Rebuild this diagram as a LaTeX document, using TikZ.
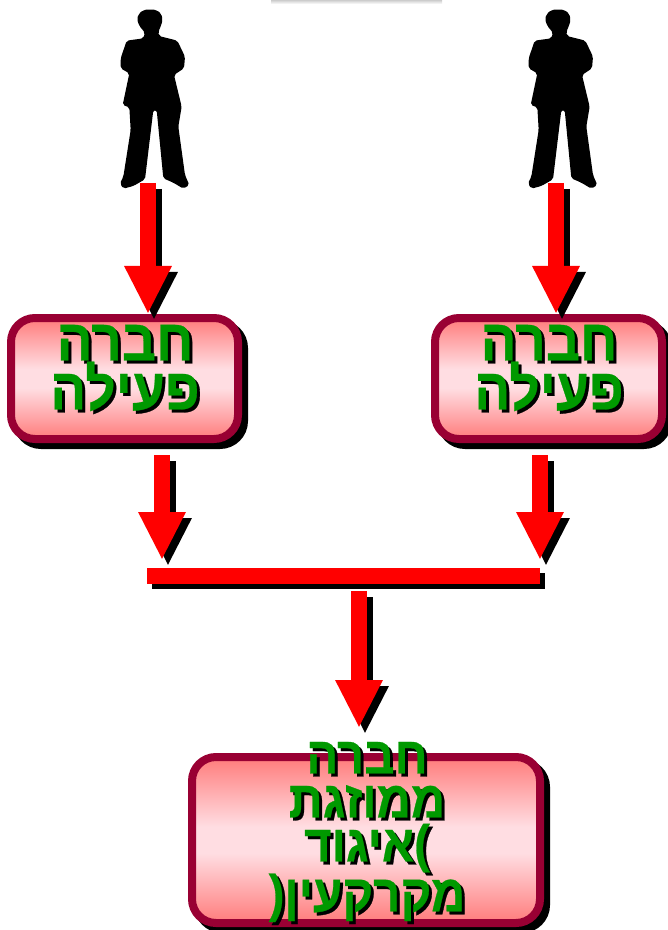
\documentclass[tikz,border=0pt]{standalone}
\usepackage{fontspec}
\usetikzlibrary{arrows.meta,shadows}
\TeXXeTstate=1
\newfontfamily\hebfont[Script=Hebrew,FakeStretch=0.91,FakeBold=0.5]{Liberation Sans Bold}
\definecolor{boxedge}{HTML}{990033}
\definecolor{boxend}{HTML}{FF8080}
\definecolor{boxmid}{HTML}{FFDDE2}
\definecolor{txtgreen}{HTML}{009900}
\pgfdeclareverticalshading{boxfill}{100bp}{
  color(0bp)=(boxend); color(26bp)=(boxend); color(46bp)=(boxmid);
  color(54bp)=(boxmid); color(74bp)=(boxend); color(100bp)=(boxend)}
\tikzset{
  box/.style={draw=boxedge,line width=6pt,rounded corners=18pt,
    shading=boxfill,
    general shadow={fill=black,draw=black,shadow xshift=4.5pt,shadow yshift=-4.5pt},
    inner sep=0pt},
  shaftred/.style={-{Triangle[length=36pt,width=33pt]},line width=12pt,draw=red,color=red},
  shaftblack/.style={-{Triangle[length=36pt,width=33pt]},line width=12pt,draw=black,color=black},
  lbl/.style={align=center,inner sep=0pt,text=txtgreen},
  lblshadow/.style={lbl,text=black}
}
\newcommand{\blockarrow}[2]{%
  \draw[shaftblack] ([shift={(6,6)}]#1) -- ([shift={(6,6)}]#2);
  \draw[shaftred] (#1) -- (#2);}
\newcommand{\personshape}{%
  \fill[black,rounded corners=1.5pt]
   (180,28) -- (200,30) -- (214,42) -- (218,60) -- (212,80) -- (205,95) -- (207,108)
   -- (262,122) -- (285,170) -- (282,205) -- (252,225) -- (275,320) -- (265,380)
   -- (285,525) -- (298,555) -- (280,566) -- (250,548) -- (220,535) -- (200,330)
   -- (190,330) -- (165,538) -- (130,558) -- (100,566) -- (90,550) -- (100,530)
   -- (122,390) -- (118,322) -- (98,315) -- (118,220) -- (92,205) -- (92,175)
   -- (110,122) -- (160,115) -- (165,98) -- (148,78) -- (141,58) -- (146,42) -- (160,30) -- cycle;}
\newcommand{\boxlabel}[6]{% name, x, y, size, leading, text
  \node[lblshadow,font=\hebfont\fontsize{#4}{#5}\selectfont] (#1s) at ({#2+3},{#3+3}) {#6};
  \node[lbl,font=\hebfont\fontsize{#4}{#5}\selectfont] (#1) at (#2,#3) {#6};}
\begin{document}
\begin{tikzpicture}[x=0.75pt,y=-0.75pt]
\useasboundingbox (0,0) rectangle (667,930);
\shade[top color=black!20,bottom color=white] (271,0) rectangle (442,4);
% people
\begin{scope}[shift={(90,0)},x=0.25pt,y=-0.25pt]\personshape\end{scope}
\begin{scope}[shift={(498,0)},x=0.25pt,y=-0.25pt]\personshape\end{scope}
\coordinate (foot1) at (148,183);
\coordinate (foot2) at (556,183);
% boxes
\node[box,minimum width=170.25pt,minimum height=90.75pt] (b1) at (124.5,378.5) {};
\node[box,minimum width=170.25pt,minimum height=90.75pt] (b2) at (548.5,378.5) {};
\node[box,minimum width=261pt,minimum height=124.5pt] (b3) at (366,840) {};
\boxlabel{l1}{125}{368}{44}{34.5}{\beginR חברה\endR\\\beginR פעילה\endR}
\boxlabel{l2}{549}{368}{44}{34.5}{\beginR חברה\endR\\\beginR פעילה\endR}
\boxlabel{l3}{367}{832}{39}{33}{\beginR חברה\endR\\\beginR ממוזגת\endR\\\beginR )איגוד\endR\\\beginR מקרקעין(\endR}
% arrow ends
\coordinate (t1) at (148,314);
\coordinate (t2) at (556,314);
\coordinate (s3) at (162,455);
\coordinate (t3) at (162,560);
\coordinate (s4) at (540,455);
\coordinate (t4) at (540,560);
\coordinate (s5) at (359,591);
\coordinate (t5) at (359,728);
\coordinate (barl) at (147,576);
\coordinate (barr) at (540,576);
\draw[black,line width=12pt] ([shift={(5,5)}]barl) -- ([shift={(5,5)}]barr);
\draw[red,line width=12pt] (barl) -- (barr);
\blockarrow{foot1}{t1}
\blockarrow{foot2}{t2}
\blockarrow{s3}{t3}
\blockarrow{s4}{t4}
\blockarrow{s5}{t5}
\end{tikzpicture}
\end{document}
